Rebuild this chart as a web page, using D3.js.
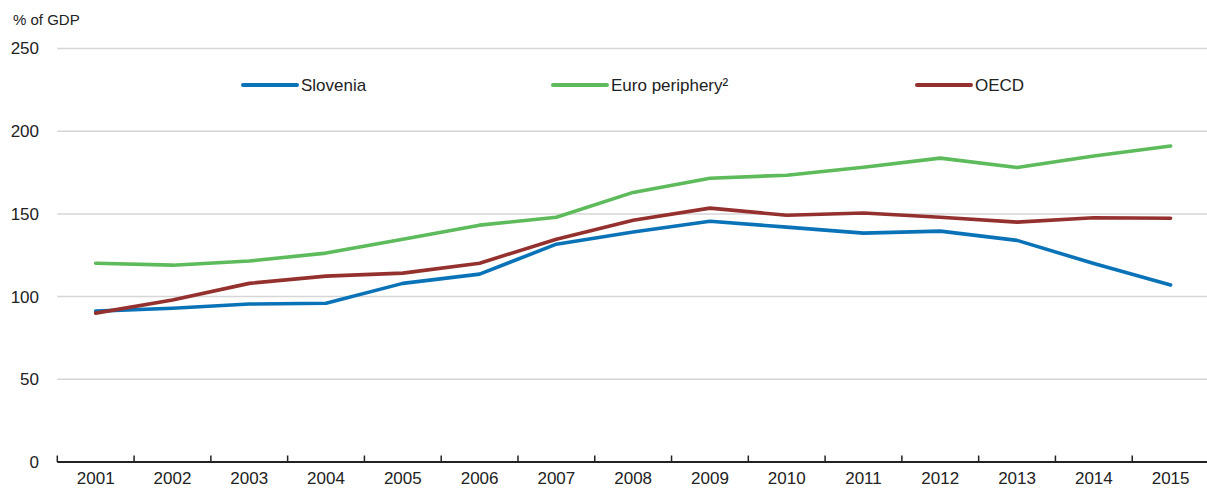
<!DOCTYPE html>
<html>
<head>
<meta charset="utf-8">
<script src="https://cdn.jsdelivr.net/npm/d3@7"></script>
<style>
  body { margin: 0; background: #fff; }
  svg text { font-family: "Liberation Sans", Arial, sans-serif; fill: #222; }
</style>
</head>
<body>
<div id="chart"></div>
<script>
// data
var years = ["2001","2002","2003","2004","2005","2006","2007","2008","2009","2010","2011","2012","2013","2014","2015"];
var slovenia = [91.2, 93, 95.5, 96, 108, 113.6, 131.7, 139, 145.6, 142, 138.4, 139.6, 134, 120, 107];
var euroPeriphery = [120.2, 119, 121.5, 126.3, 134.7, 143.2, 148, 163, 171.6, 173.4, 178.2, 183.7, 178, 185, 191];
var oecd = [90, 98, 108, 112.4, 114.2, 120.2, 134.7, 146.2, 153.5, 149.2, 150.5, 148, 145, 147.7, 147.4];
var yTicks = [0, 50, 100, 150, 200, 250];

var seriesNames = ["Slovenia", "Euro periphery\u00B2", "OECD"];
var seriesColors = ["#0a73b8", "#5dbb5b", "#94312f"];
var seriesValues = [slovenia, euroPeriphery, oecd];

var width = 1207, height = 490;
var margin = {top: 48.5, right: -2, bottom: 28, left: 57.3};

var svg = d3.select("#chart").append("svg")
    .attr("width", width)
    .attr("height", height);

var x = d3.scaleBand()
    .domain(years)
    .range([margin.left, width - margin.right]);

var y = d3.scaleLinear()
    .domain([0, 250])
    .range([height - margin.bottom, margin.top]);

// gridlines
svg.append("g").selectAll("line")
    .data(yTicks.filter(function(d){ return d > 0; }))
    .enter().append("line")
    .attr("x1", margin.left)
    .attr("x2", width)
    .attr("y1", function(d){ return y(d); })
    .attr("y2", function(d){ return y(d); })
    .attr("stroke", "#d6d6d6")
    .attr("stroke-width", 1.5);

// y labels
svg.append("g").selectAll("text")
    .data(yTicks)
    .enter().append("text")
    .attr("x", 39)
    .attr("y", function(d){ return y(d); })
    .attr("dy", "0.35em")
    .attr("text-anchor", "end")
    .style("font-size", "17px")
    .text(function(d){ return d; });

svg.append("text")
    .attr("x", 13)
    .attr("y", 25)
    .style("font-size", "15px")
    .text("% of GDP");

// x axis
var xAxis = svg.append("g")
    .attr("transform", "translate(0," + y(0) + ")")
    .call(d3.axisBottom(x).tickSize(0).tickPadding(10));
xAxis.select(".domain").remove();
xAxis.selectAll("text")
    .style("font-size", "17px")
    .style("font-family", "Liberation Sans, Arial, sans-serif")
    .attr("fill", "#222");

svg.append("line")
    .attr("x1", margin.left)
    .attr("x2", width)
    .attr("y1", y(0))
    .attr("y2", y(0))
    .attr("stroke", "#222")
    .attr("stroke-width", 2);

svg.append("g").selectAll("line")
    .data(years)
    .enter().append("line")
    .attr("x1", function(d){ return x(d); })
    .attr("x2", function(d){ return x(d); })
    .attr("y1", y(0))
    .attr("y2", y(0) - 6.5)
    .attr("stroke", "#222")
    .attr("stroke-width", 1.5);

// lines
var line = d3.line()
    .x(function(d, i){ return x(years[i]) + x.bandwidth() / 2; })
    .y(function(d){ return y(d); });

// draw order: euro periphery, slovenia, oecd on top
[1, 0, 2].forEach(function(k){
    svg.append("path")
        .datum(seriesValues[k])
        .attr("fill", "none")
        .attr("stroke", seriesColors[k])
        .attr("stroke-width", 3.6)
        .attr("stroke-linejoin", "round")
        .attr("stroke-linecap", "round")
        .attr("d", line);
});

// legend
var legendX = [243, 553, 917];
var legend = svg.append("g").selectAll("g")
    .data(seriesNames)
    .enter().append("g")
    .attr("transform", function(d, i){ return "translate(" + legendX[i] + ",85)"; });
legend.append("line")
    .attr("x1", 0).attr("x2", 54)
    .attr("stroke", function(d, i){ return seriesColors[i]; })
    .attr("stroke-width", 4)
    .attr("stroke-linecap", "round");
legend.append("text")
    .attr("x", 58)
    .attr("dy", "0.35em")
    .style("font-size", "17px")
    .text(function(d){ return d; });
</script>
</body>
</html>
